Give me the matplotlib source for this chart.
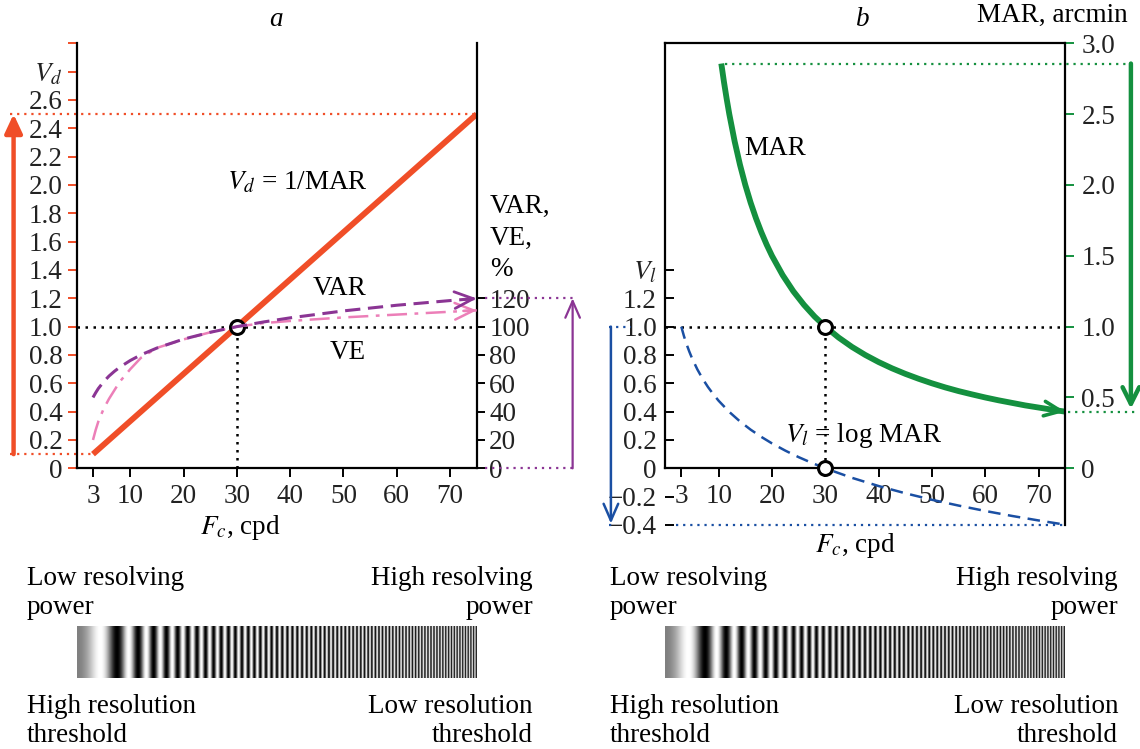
import numpy as np
import matplotlib
matplotlib.use("Agg")
import matplotlib.pyplot as plt

plt.rcParams['font.family'] = ['Liberation Serif', 'DejaVu Serif']
plt.rcParams['mathtext.fontset'] = 'stix'
plt.rcParams['font.size'] = 19.5

FS = 19.5

# ---------------- data ----------------
# panel a: decimal acuity (linear in spatial frequency)
fc_vd = [3, 75]
vd = [0.1, 2.5]

# VAR and VE, percent
fc_var = [3, 3.5, 4, 5, 6, 7, 8, 10, 12, 15, 20, 25, 30, 35, 40, 50, 60, 70, 75]
var_pct = [50.0, 53.3, 56.3, 61.1, 65.1, 68.4, 71.3, 76.1, 80.1, 84.9, 91.2,
           96.0, 100.0, 103.3, 106.2, 111.1, 115.1, 118.4, 119.9]
fc_ve = [3, 3.5, 4, 5, 6, 7, 8, 10, 12, 15, 20, 25, 30, 35, 40, 50, 60, 70, 75]
ve_pct = [20.0, 27.0, 33.0, 42.0, 49.0, 55.0, 61.0, 70.0, 78.0, 85.0, 91.0,
          96.0, 100.0, 102.5, 104.0, 106.5, 108.5, 110.5, 111.5]

# panel b: MAR (arcmin) and logMAR
fc_mar = [10.5, 11, 11.5, 12, 13, 14, 15, 16, 17, 18, 19, 20, 22, 24, 26, 28,
          30, 32.5, 35, 37.5, 40, 42.5, 45, 47.5, 50, 52.5, 55, 57.5, 60, 62.5,
          65, 67.5, 70, 72.5, 75]
mar = [2.857, 2.727, 2.609, 2.500, 2.308, 2.143, 2.000, 1.875, 1.765, 1.667,
       1.579, 1.500, 1.364, 1.250, 1.154, 1.071, 1.000, 0.923, 0.857, 0.800,
       0.750, 0.706, 0.667, 0.632, 0.600, 0.571, 0.545, 0.522, 0.500, 0.480,
       0.462, 0.444, 0.429, 0.414, 0.400]
fc_vl = [3, 3.5, 4, 4.5, 5, 6, 7, 8, 9, 10, 12, 14, 16, 18, 20, 22.5, 25, 27.5,
         30, 35, 40, 45, 50, 55, 60, 65, 70, 75]
vl = [1.000, 0.933, 0.875, 0.824, 0.778, 0.699, 0.632, 0.574, 0.523, 0.477,
      0.398, 0.331, 0.273, 0.222, 0.176, 0.125, 0.079, 0.038, 0.000, -0.067,
      -0.125, -0.176, -0.222, -0.263, -0.301, -0.336, -0.368, -0.398]

# reference point (30 cpd)
fc_ref = 30
v_ref = 1.0

x_ticks = [3, 10, 20, 30, 40, 50, 60, 70]
vd_ticks = [0, 0.2, 0.4, 0.6, 0.8, 1.0, 1.2, 1.4, 1.6, 1.8, 2.0, 2.2, 2.4, 2.6, 2.8, 3.0]
vd_labels = ['0', '0.2', '0.4', '0.6', '0.8', '1.0', '1.2', '1.4', '1.6', '1.8',
             '2.0', '2.2', '2.4', '2.6', '$V_d$', '']
pct_ticks = [0, 20, 40, 60, 80, 100, 120]
vl_ticks = [-0.4, -0.2, 0, 0.2, 0.4, 0.6, 0.8, 1.0, 1.2, 1.4]
vl_labels = ['\u22120.4', '\u22120.2', '0', '0.2', '0.4', '0.6', '0.8', '1.0', '1.2', '$V_l$']
mar_ticks = [0, 0.5, 1.0, 1.5, 2.0, 2.5, 3.0]
mar_labels = ['0', '0.5', '1.0', '1.5', '2.0', '2.5', '3.0']

# ---------------- colours ----------------
C_RED = '#f04e28'
C_PURPLE = '#8b3594'
C_PINK = '#ec7fb8'
C_GREEN = '#14903f'
C_BLUE = '#1a4fa3'
C_TEXT = '#222222'

W, H = 1140, 749
fig = plt.figure(figsize=(W / 100, H / 100), dpi=100)


def fx(px):
    return px / W


def fy(py):
    return 1 - py / H


def arrow(ax, x0, y0, x1, y1, color, lw, style='->', scale=15):
    ax.annotate('', xy=(x1, y1), xytext=(x0, y0), xycoords='data',
                textcoords='data', annotation_clip=False,
                arrowprops=dict(arrowstyle=style, color=color, lw=lw,
                                mutation_scale=scale, shrinkA=0, shrinkB=0))


DOT = (0, (1, 2.2))

# ================= panel a =================
ax = fig.add_axes([fx(77), fy(468.3), fx(476.7) - fx(77), (468.3 - 43.3) / H])
ax.set_xlim(0, 75)
ax.set_ylim(0, 3.0)
ax.spines['top'].set_visible(False)
ax.spines['right'].set_visible(False)
for s in ('left', 'bottom'):
    ax.spines[s].set_linewidth(1.6)
ax.set_xticks(x_ticks)
ax.set_yticks(vd_ticks)
ax.set_yticklabels(vd_labels)
ax.tick_params(axis='y', colors=C_RED, labelcolor=C_TEXT, length=6.5,
               width=1.4, pad=4, labelsize=FS)
ax.tick_params(axis='x', length=6.5, width=1.4, pad=5, labelsize=FS,
               labelcolor=C_TEXT)

axp = ax.twinx()
axp.set_ylim(0, 300)
for s in ('top', 'left', 'bottom'):
    axp.spines[s].set_visible(False)
axp.spines['right'].set_linewidth(1.6)
axp.set_yticks(pct_ticks)
axp.tick_params(axis='y', length=6, width=1.4, pad=3, labelsize=FS,
                labelcolor=C_TEXT)

# guides through the reference point
ax.plot([0, 75], [v_ref, v_ref], ls=DOT, color='black', lw=1.8, zorder=2)
ax.plot([fc_ref, fc_ref], [0, v_ref], ls=DOT, color='black', lw=1.8, zorder=2)

# red range guides and arrow
ax.plot([-12.5, fc_vd[0]], [vd[0], vd[0]], ls=DOT, color=C_RED, lw=1.6,
        clip_on=False)
ax.plot([-12.5, fc_vd[1]], [vd[1], vd[1]], ls=DOT, color=C_RED, lw=1.6,
        clip_on=False)
arrow(ax, -11.9, vd[0], -11.9, vd[1], C_RED, 3.2,
      style='-|>,head_length=0.75,head_width=0.35', scale=15)

# curves
axp.plot(fc_ve, ve_pct, color=C_PINK, lw=1.8, ls=(0, (8, 3, 1.5, 3)), zorder=3)
arrow(axp, 72.5, 111.1, fc_ve[-1], ve_pct[-1], C_PINK, 1.8,
      style='->,head_length=0.9,head_width=0.4')
axp.plot(fc_var, var_pct, color=C_PURPLE, lw=2.2, ls=(0, (5, 2.5)), zorder=4)
arrow(axp, 72.5, 119.2, fc_var[-1], var_pct[-1], C_PURPLE, 2.0,
      style='->,head_length=0.9,head_width=0.4')
ax.plot(fc_vd, vd, color=C_RED, lw=4.2, solid_capstyle='butt', zorder=5)
ax.plot(fc_ref, v_ref, 'o', ms=10, mfc='white', mec='black', mew=2.2, zorder=10)

# purple range guides and arrow (percent axis)
axp.plot([76.5, 93.2], [120, 120], ls=DOT, color=C_PURPLE, lw=1.6, clip_on=False)
axp.plot([76.5, 93.2], [0, 0], ls=DOT, color=C_PURPLE, lw=1.6, clip_on=False)
arrow(axp, 93.0, 0, 93.0, 120, C_PURPLE, 1.6,
      style='->,head_length=0.8,head_width=0.35')

ax.text(41.3, 2.02, '$V_d$ = 1/MAR', ha='center', va='center', fontsize=FS)
ax.text(49.3, 1.27, 'VAR', ha='center', va='center', fontsize=FS)
ax.text(50.8, 0.82, 'VE', ha='center', va='center', fontsize=FS)
fig.text(fx(490), fy(238), 'VAR,\nVE,\n%', ha='left', va='center', fontsize=FS,
         linespacing=1.35)
fig.text(fx(276), fy(20), 'a', ha='center', va='center', fontsize=FS, style='italic')
fig.text(fx(240), fy(528), '$F_c$, cpd', ha='center', va='center', fontsize=FS)

# ================= panel b =================
bx = fig.add_axes([fx(665.3), fy(525), fx(1065.3) - fx(665.3), (525 - 43.3) / H])
bx.set_xlim(0, 75)
bx.set_ylim(-0.4, 3.0)
bx.spines['right'].set_visible(False)
bx.spines['bottom'].set_position(('data', 0))
bx.spines['left'].set_bounds(0, 3.0)
for s in ('left', 'bottom', 'top'):
    bx.spines[s].set_linewidth(1.6)
bx.set_xticks(x_ticks)
bx.set_yticks(vl_ticks)
bx.set_yticklabels(vl_labels)
bx.tick_params(axis='y', direction='in', length=6.5, width=1.4, pad=6,
               labelsize=FS, labelcolor=C_TEXT)
bx.tick_params(axis='x', length=6.5, width=1.4, pad=5, labelsize=FS,
               labelcolor=C_TEXT)
for t, v in zip(bx.yaxis.get_major_ticks(), vl_ticks):
    if v < 0 or v > 1.3:
        t.tick1line.set_visible(False)

bm = bx.twinx()
bm.set_ylim(-0.4, 3.0)
for s in ('top', 'left', 'bottom'):
    bm.spines[s].set_visible(False)
bm.spines['right'].set_linewidth(1.6)
bm.set_yticks(mar_ticks)
bm.set_yticklabels(mar_labels)
bm.tick_params(axis='y', colors=C_GREEN, labelcolor=C_TEXT, length=6.5,
               width=1.4, pad=5, labelsize=FS)

bx.plot([0, 75], [v_ref, v_ref], ls=DOT, color='black', lw=1.8, zorder=2)
bx.plot([fc_ref, fc_ref], [0, v_ref], ls=DOT, color='black', lw=1.8, zorder=2)

# logMAR curve and blue range guides
bx.plot(fc_vl, vl, color=C_BLUE, lw=1.8, ls=(0, (5, 3)), zorder=3, clip_on=False)
bx.plot([-10.5, -6.5], [1.0, 1.0], ls=DOT, color=C_BLUE, lw=1.6, clip_on=False)
bx.plot([-10.5, -9.3], [-0.4, -0.4], ls=DOT, color=C_BLUE, lw=1.6, clip_on=False)
bx.plot([2.0, 75], [-0.4, -0.4], ls=DOT, color=C_BLUE, lw=1.6, clip_on=False)
arrow(bx, -10.2, 1.0, -10.2, -0.39, C_BLUE, 1.8,
      style='->,head_length=0.8,head_width=0.35')

# MAR curve and green range guides
bx.plot(fc_mar, mar, color=C_GREEN, lw=4.2, zorder=4, solid_capstyle='butt')
arrow(bx, 73.0, 0.411, fc_mar[-1], mar[-1], C_GREEN, 2.6,
      style='->,head_length=0.8,head_width=0.35')
bx.plot([fc_mar[0] + 0.6, 88.5], [mar[0], mar[0]], ls=DOT, color=C_GREEN,
        lw=1.6, clip_on=False)
bx.plot([75.5, 88.5], [mar[-1], mar[-1]], ls=DOT, color=C_GREEN, lw=1.6,
        clip_on=False)
arrow(bx, 87.3, mar[0], 87.3, mar[-1] + 0.02, C_GREEN, 3.2,
      style='->,head_length=0.8,head_width=0.4')

bx.plot(fc_ref, v_ref, 'o', ms=10, mfc='white', mec='black', mew=2.2, zorder=10)
bx.plot(fc_ref, 0, 'o', ms=10, mfc='white', mec='black', mew=2.2, zorder=10,
        clip_on=False)

bx.text(20.6, 2.26, 'MAR', ha='center', va='center', fontsize=FS)
bx.text(37.2, 0.235, '$V_l$ = log MAR', ha='center', va='center', fontsize=FS)
fig.text(fx(863), fy(20), 'b', ha='center', va='center', fontsize=FS, style='italic')
fig.text(fx(1052), fy(15), 'MAR, arcmin', ha='center', va='center', fontsize=FS)
fig.text(fx(855), fy(545), '$F_c$, cpd', ha='center', va='center', fontsize=FS)

# ================= chirped gratings =================
CHIRP_SPAN = 75.0      # frequency axis extent spanned by the strip
CHIRP_CYCLES = 75.0    # cycles accumulated across the strip
xg = np.linspace(0, CHIRP_SPAN, 4000)
lum = 0.5 + 0.5 * np.sin(2 * np.pi * xg ** 2 / CHIRP_SPAN ** 2 * CHIRP_CYCLES)
strip = np.tile(lum, (4, 1))

for left, right, tl, tr in [(77, 477, 27, 533), (665, 1065, 610, 1118)]:
    g = fig.add_axes([fx(left), fy(678), fx(right) - fx(left), (678 - 626) / H])
    g.imshow(strip, aspect='auto', cmap='gray', vmin=0, vmax=1,
             interpolation='antialiased', extent=[0, CHIRP_SPAN, 0, 1])
    g.axis('off')
    fig.text(fx(tl), fy(593), 'Low resolving\npower', ha='left', va='center',
             fontsize=FS, linespacing=1.2)
    fig.text(fx(tr), fy(593), 'High resolving\npower', ha='right', va='center',
             fontsize=FS, linespacing=1.2, multialignment='right')
    fig.text(fx(tl), fy(721), 'High resolution\nthreshold', ha='left', va='center',
             fontsize=FS, linespacing=1.2)
    fig.text(fx(tr), fy(721), 'Low resolution\nthreshold', ha='right', va='center',
             fontsize=FS, linespacing=1.2, multialignment='right')

fig.savefig('out.png', dpi=100)
